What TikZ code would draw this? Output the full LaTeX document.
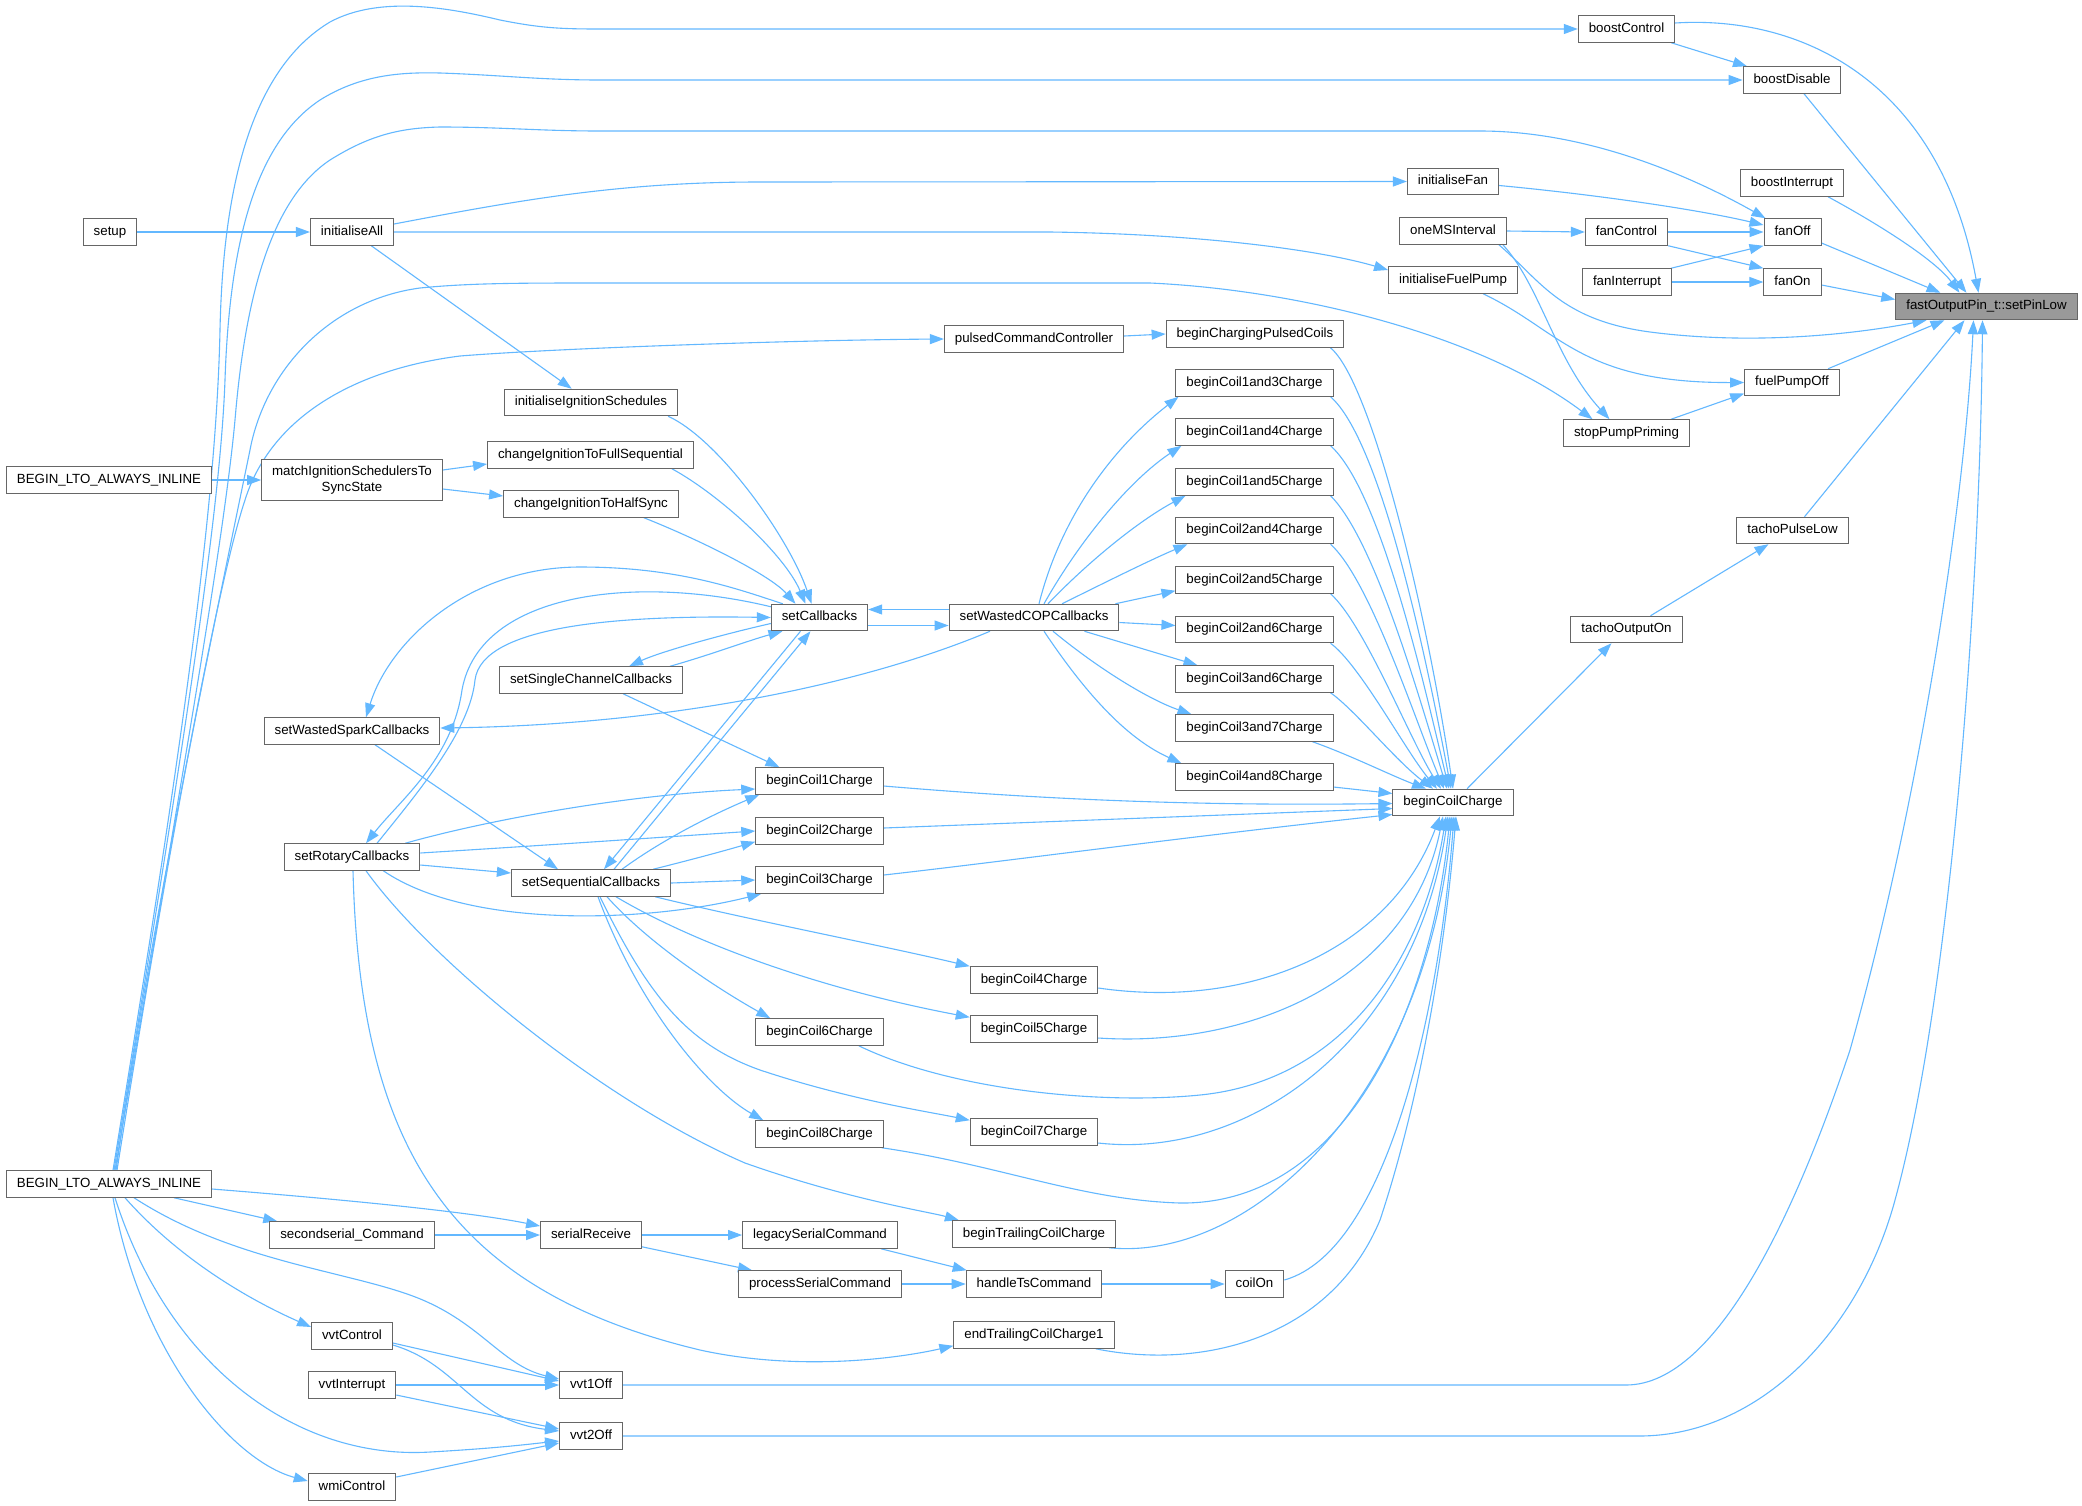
\documentclass[tikz,border=0pt]{standalone}
\usepackage{fontspec}
\newfontfamily\dxfont{Liberation Sans}
\usetikzlibrary{arrows.meta,calc}
\pgfdeclarelayer{bg}
\pgfdeclarelayer{edges}
\pgfsetlayers{bg,edges,main}
\definecolor{edgeblue}{HTML}{63B8FF}
\definecolor{nodeborder}{HTML}{666666}
\definecolor{hilite}{HTML}{999999}
\begin{document}
\begin{tikzpicture}[x=1pt,y=-1pt,
 fnbase/.style={draw=nodeborder, fill=white, line width=1pt, font=\dxfont\fontsize{13.3pt}{15.5pt}\selectfont, inner xsep=10.5pt, text=black},
 fn/.style={fnbase, minimum height=26.5pt, inner ysep=0pt, text height=9.6pt, text depth=2.8pt},
 call/.style={draw=edgeblue, line width=1.1pt, -{Triangle[length=14pt,width=10pt]}}
]
\useasboundingbox (0,0) rectangle (2082,1505);
\begin{pgfonlayer}{bg}
\fill[white] (0,0) rectangle (2082,1505);
\end{pgfonlayer}

% ---------- nodes ----------
\node[fn] (setup) at (110,232) {setup};
\node[fn] (initAll) at (352,232) {initialiseAll};
\node[fn] (beginU) at (109,480) {BEGIN\_LTO\_ALWAYS\_INLINE};
\node[fnbase, align=center, minimum height=41pt] (match) at (352,480) {matchIgnitionSchedulersTo\\SyncState};
\node[fn] (initIgn) at (591,402.5) {initialiseIgnitionSchedules};
\node[fn] (chgFull) at (590.5,455) {changeIgnitionToFullSequential};
\node[fn] (chgHalf) at (591,504) {changeIgnitionToHalfSync};
\node[fn] (setSingle) at (591,680) {setSingleChannelCallbacks};
\node[fn] (setWSpark) at (352,731) {setWastedSparkCallbacks};
\node[fn] (setRotary) at (352,857) {setRotaryCallbacks};
\node[fn] (setSeq) at (591,883) {setSequentialCallbacks};
\node[fn] (setCb) at (819.5,617.5) {setCallbacks};
\node[fn] (setWCOP) at (1034,617.5) {setWastedCOPCallbacks};
\node[fn] (pulsedCC) at (1034,339) {pulsedCommandController};
\node[fn] (bcPulsed) at (1255,334) {beginChargingPulsedCoils};
\node[fn] (bc13) at (1254.5,383) {beginCoil1and3Charge};
\node[fn] (bc14) at (1254.5,432) {beginCoil1and4Charge};
\node[fn] (bc15) at (1254.5,482) {beginCoil1and5Charge};
\node[fn] (bc24) at (1254.5,530.5) {beginCoil2and4Charge};
\node[fn] (bc25) at (1254.5,580) {beginCoil2and5Charge};
\node[fn] (bc26) at (1254.5,629.5) {beginCoil2and6Charge};
\node[fn] (bc36) at (1254.5,679) {beginCoil3and6Charge};
\node[fn] (bc37) at (1254.5,728) {beginCoil3and7Charge};
\node[fn] (bc48) at (1254.5,777) {beginCoil4and8Charge};
\node[fn] (bc1) at (819.5,781) {beginCoil1Charge};
\node[fn] (bc2) at (819.5,831) {beginCoil2Charge};
\node[fn] (bc3) at (819.5,880) {beginCoil3Charge};
\node[fn] (bc4) at (1034,980) {beginCoil4Charge};
\node[fn] (bc5) at (1034,1029) {beginCoil5Charge};
\node[fn] (bc6) at (819.5,1032) {beginCoil6Charge};
\node[fn] (bc7) at (1034,1132) {beginCoil7Charge};
\node[fn] (bc8) at (819.5,1134) {beginCoil8Charge};
\node[fn] (legacy) at (820,1235) {legacySerialCommand};
\node[fn] (trailing) at (1034,1234) {beginTrailingCoilCharge};
\node[fn] (process) at (820,1284) {processSerialCommand};
\node[fn] (handleTs) at (1034,1284) {handleTsCommand};
\node[fn] (coilOn) at (1254.5,1284) {coilOn};
\node[fn] (endTrailing) at (1034,1335) {endTrailingCoilCharge1};
\node[fn] (beginL) at (109,1184) {BEGIN\_LTO\_ALWAYS\_INLINE};
\node[fn] (secondserial) at (352,1235) {secondserial\_Command};
\node[fn] (serialRec) at (591,1235) {serialReceive};
\node[fn] (vvtControl) at (352,1336) {vvtControl};
\node[fn] (vvtInterrupt) at (352,1385) {vvtInterrupt};
\node[fn] (vvt1Off) at (591,1385) {vvt1Off};
\node[fn] (vvt2Off) at (591,1436) {vvt2Off};
\node[fn] (wmiControl) at (352,1487) {wmiControl};
\node[fn] (boostControl) at (1626.5,29) {boostControl};
\node[fn] (boostDisable) at (1792,80) {boostDisable};
\node[fn] (boostInterrupt) at (1792,183) {boostInterrupt};
\node[fn] (initFan) at (1453,181.5) {initialiseFan};
\node[fn] (oneMS) at (1453,231) {oneMSInterval};
\node[fn] (fanControl) at (1626.5,232) {fanControl};
\node[fn] (fanOff) at (1792.5,232) {fanOff};
\node[fn] (fanInterrupt) at (1627,282) {fanInterrupt};
\node[fn] (fanOn) at (1792.5,282) {fanOn};
\node[fn] (initFP) at (1453,280) {initialiseFuelPump};
\node[fn, fill=hilite] (setPinLow) at (1986.5,306.5) {fastOutputPin\_t::setPinLow};
\node[fn] (fuelPumpOff) at (1792,382.5) {fuelPumpOff};
\node[fn] (stopPump) at (1626.5,433) {stopPumpPriming};
\node[fn] (tachoPL) at (1792.5,530.5) {tachoPulseLow};
\node[fn] (tachoOut) at (1626.5,629.5) {tachoOutputOn};
\node[fn] (bCC) at (1453,802.5) {beginCoilCharge};

% ---------- edges ----------
\begin{pgfonlayer}{edges}
% top left
\draw[call] (setup) -- (initAll);
\draw[call] ($(initAll.east)+(0,-8)$) .. controls (520,200) and (620,182) .. (760,182) -- (initFan.west);
\draw[call] (initAll.east) -- (1050,232) .. controls (1200,234) and (1320,250) .. ($(initFP.west)+(0,-10)$);
\draw[call] (initAll) -- (initIgn);
\draw[call] (beginU) -- (match);
\draw[call] ($(match.east)+(0,-10)$) -- ($(chgFull.west)+(0,9)$);
\draw[call] ($(match.east)+(0,9)$) -- ($(chgHalf.west)+(0,-8)$);
% into setCallbacks from above
\draw[call] ($(initIgn.south east)+(-10,0)$) .. controls (720,440) and (790,540) .. ($(setCb.north)+(-8,0)$);
\draw[call] ($(chgFull.south east)+(-22,0)$) .. controls (720,495) and (785,555) .. ($(setCb.north)+(-14,0)$);
\draw[call] ($(chgHalf.south east)+(-35,0)$) .. controls (700,540) and (770,575) .. ($(setCb.north)+(-24,0)$);
% setCallbacks <-> setWastedCOPCallbacks
\draw[call] ($(setWCOP.west)+(0,-8)$) -- ($(setCb.east)+(0,-8)$);
\draw[call] ($(setCb.east)+(0,8)$) -- ($(setWCOP.west)+(0,8)$);
\draw[call] ($(setWCOP.south)+(-44,0)$) .. controls (850,690) and (650,725) .. ($(setWSpark.east)+(0,-3)$);
% setCallbacks <-> setSingleChannelCallbacks
\draw[call] ($(setCb.west)+(0,6)$) .. controls (720,635) and (660,652) .. ($(setSingle.north)+(38,0)$);
\draw[call] ($(setSingle.north)+(79,0)$) .. controls (710,655) and (750,640) .. ($(setCb.south)+(-37,0)$);
% setCallbacks -> setWastedSparkCallbacks (arc)
\draw[call] ($(setCb.north west)+(12,0)$) .. controls (740,590) and (680,567) .. (580,567) .. controls (470,567) and (390,640) .. ($(setWSpark.north)+(14,0)$);
% setCallbacks <-> setRotaryCallbacks
\draw[call] ($(setCb.north west)+(0,3)$) .. controls (640,575) and (480,590) .. (462,690) .. controls (452,760) and (400,800) .. ($(setRotary.north)+(14,0)$);
\draw[call] ($(setRotary.north)+(25,0)$) .. controls (420,790) and (470,730) .. (475,680) .. controls (482,625) and (620,615) .. (setCb.west);
% setCallbacks <-> setSequentialCallbacks
\draw[call] ($(setCb.south)+(-19,0)$) -- ($(setSeq.north)+(13,0)$);
\draw[call] ($(setSeq.north)+(23,0)$) -- ($(setCb.south)+(-9,0)$);
\draw[call] ($(setWSpark.south)+(23,0)$) -- ($(setSeq.north)+(-33,0)$);
\draw[call] ($(setRotary.east)+(0,8)$) -- ($(setSeq.west)+(0,-10)$);
% setRotaryCallbacks -> coils
\draw[call] ($(setRotary.north east)+(-15,0)$) .. controls (480,822) and (620,795) .. ($(bc1.west)+(0,8)$);
\draw[call] ($(setRotary.east)+(0,-4)$) .. controls (550,845) and (680,836) .. (bc2.west);
\draw[call] ($(setRotary.south east)+(-37,0)$) .. controls (470,930) and (650,922) .. ($(bc3.south west)+(6,0)$);
\draw[call] ($(setRotary.south)+(14,0)$) .. controls (430,960) and (600,1100) .. (745,1163) .. controls (850,1200) and (930,1212) .. ($(trailing.north west)+(7,0)$);
\draw[call] ($(setRotary.south)+(1,0)$) .. controls (360,1150) and (450,1290) .. (700,1350) .. controls (800,1372) and (900,1358) .. ($(endTrailing.south west)+(0,-3)$);
% setSequentialCallbacks -> coils
\draw[call] ($(setSeq.north)+(31,0)$) .. controls (655,845) and (700,820) .. ($(bc1.south west)+(4,0)$);
\draw[call] ($(setSeq.north east)+(-18,0)$) .. controls (690,860) and (720,852) .. ($(bc2.south west)+(0,-3)$);
\draw[call] (setSeq.east) -- (bc3.west);
\draw[call] ($(setSeq.south east)+(-16,0)$) .. controls (750,920) and (880,945) .. (bc4.north west);
\draw[call] ($(setSeq.south)+(25,0)$) .. controls (680,935) and (800,985) .. ($(bc5.north west)+(0,2)$);
\draw[call] ($(setSeq.south)+(16,0)$) .. controls (650,945) and (720,990) .. ($(bc6.north west)+(15,0)$);
\draw[call] ($(setSeq.south)+(9,0)$) .. controls (650,1000) and (690,1045) .. (760,1070) .. controls (850,1100) and (930,1112) .. ($(bc7.north west)+(0,2)$);
\draw[call] ($(setSeq.south)+(7,0)$) .. controls (640,1010) and (710,1090) .. ($(bc8.north west)+(8,0)$);
\draw[call] ($(setSingle.south)+(32,0)$) -- ($(bc1.north)+(-40,0)$);
% setWastedCOPCallbacks -> pair coils
\draw[call] ($(setWCOP.north)+(5,0)$) .. controls (1060,520) and (1110,450) .. ($(bc13.south west)+(3,0)$);
\draw[call] ($(setWCOP.north)+(10,0)$) .. controls (1080,540) and (1130,480) .. ($(bc14.south west)+(6,0)$);
\draw[call] ($(setWCOP.north)+(14,0)$) .. controls (1090,560) and (1140,520) .. ($(bc15.south west)+(10,0)$);
\draw[call] ($(setWCOP.north)+(28,0)$) .. controls (1100,585) and (1150,560) .. ($(bc24.south west)+(12,0)$);
\draw[call] ($(setWCOP.north east)+(-4,0)$) -- ($(bc25.south west)+(0,-3)$);
\draw[call] ($(setWCOP.east)+(0,5)$) -- ($(bc26.west)+(0,-4)$);
\draw[call] ($(setWCOP.south east)+(-35,0)$) -- ($(bc36.north west)+(22,0)$);
\draw[call] ($(setWCOP.south)+(19,0)$) .. controls (1100,670) and (1150,700) .. ($(bc37.north west)+(16,0)$);
\draw[call] ($(setWCOP.south)+(10,0)$) .. controls (1090,700) and (1130,740) .. ($(bc48.north west)+(6,0)$);
\draw[call] ($(pulsedCC.east)+(0,-3)$) -- (bcPulsed.west);
% into beginCoilCharge from above
\draw[call] ($(bcPulsed.south east)+(-14,0)$) .. controls (1370,380) and (1425,600) .. ($(bCC.north)+(0,0)$);
\draw[call] ($(bc13.south east)+(-3,0)$) .. controls (1380,440) and (1425,650) .. ($(bCC.north)+(-2,0)$);
\draw[call] ($(bc14.south east)+(-3,0)$) .. controls (1380,490) and (1423,680) .. ($(bCC.north)+(-4,0)$);
\draw[call] ($(bc15.south east)+(-3,0)$) .. controls (1375,540) and (1420,700) .. ($(bCC.north)+(-6,0)$);
\draw[call] ($(bc24.south east)+(-3,0)$) .. controls (1370,580) and (1415,720) .. ($(bCC.north)+(-9,0)$);
\draw[call] ($(bc25.south east)+(-3,0)$) .. controls (1365,625) and (1410,740) .. ($(bCC.north)+(-12,0)$);
\draw[call] ($(bc26.south east)+(-3,0)$) .. controls (1360,665) and (1405,750) .. ($(bCC.north)+(-16,0)$);
\draw[call] ($(bc36.south east)+(-3,0)$) .. controls (1355,710) and (1395,760) .. ($(bCC.north)+(-20,0)$);
\draw[call] ($(bc37.south east)+(-21,0)$) .. controls (1350,755) and (1390,775) .. ($(bCC.north)+(-27,0)$);
\draw[call] ($(bc48.east)+(0,10)$) -- ($(bCC.west)+(0,-9)$);
\draw[call] ($(bc1.east)+(0,5)$) .. controls (1050,800) and (1200,806) .. ($(bCC.west)+(0,1)$);
\draw[call] ($(bc2.east)+(0,-3)$) -- ($(bCC.west)+(0,6)$);
\draw[call] ($(bc3.east)+(0,-5)$) .. controls (1000,862) and (1200,835) .. ($(bCC.west)+(0,12)$);
% into beginCoilCharge from below
\draw[call] ($(bc4.east)+(0,8)$) .. controls (1250,1010) and (1390,950) .. ($(bCC.south)+(-13,0)$);
\draw[call] ($(bc5.east)+(0,9)$) .. controls (1250,1048) and (1410,980) .. ($(bCC.south)+(-10,0)$);
\draw[call] ($(bc6.south east)+(-25,0)$) .. controls (950,1090) and (1100,1105) .. (1200,1095) .. controls (1350,1080) and (1425,950) .. ($(bCC.south)+(-7,0)$);
\draw[call] ($(bc7.east)+(0,11)$) .. controls (1250,1160) and (1415,1040) .. ($(bCC.south)+(-5,0)$);
\draw[call] ($(bc8.south east)+(-2,0)$) .. controls (1000,1165) and (1080,1200) .. (1180,1203) .. controls (1350,1205) and (1432,1000) .. ($(bCC.south)+(-3,0)$);
\draw[call] ($(trailing.south east)+(-7,0)$) .. controls (1250,1262) and (1425,1100) .. ($(bCC.south)+(-1,0)$);
\draw[call] ($(coilOn.east)+(0,-4)$) .. controls (1390,1250) and (1440,1000) .. ($(bCC.south)+(1,0)$);
\draw[call] ($(endTrailing.south east)+(-19,0)$) .. controls (1200,1370) and (1330,1340) .. (1380,1220) .. controls (1420,1100) and (1445,950) .. ($(bCC.south)+(3,0)$);
% serial chain
\draw[call] ($(beginL.south)+(65,0)$) -- ($(secondserial.north west)+(8,0)$);
\draw[call] ($(beginL.east)+(0,5)$) .. controls (350,1200) and (470,1212) .. ($(serialRec.west)+(0,-9)$);
\draw[call] (secondserial) -- (serialRec);
\draw[call] (serialRec) -- (legacy);
\draw[call] ($(serialRec.south east)+(0,-2)$) -- ($(process.north west)+(14,0)$);
\draw[call] ($(legacy.south east)+(-17,0)$) -- ($(handleTs.north west)+(1,0)$);
\draw[call] (process) -- (handleTs);
\draw[call] (handleTs) -- (coilOn);
% vvt / wmi
\draw[call] ($(beginL.south)+(16,0)$) .. controls (180,1260) and (250,1300) .. ($(vvtControl.west)+(0,-9)$);
\draw[call] ($(beginL.south)+(25,0)$) .. controls (230,1260) and (340,1270) .. (410,1295) .. controls (480,1320) and (500,1365) .. ($(vvt1Off.west)+(0,-6)$);
\draw[call] ($(beginL.south)+(6,0)$) .. controls (170,1370) and (300,1460) .. (430,1452) .. controls (500,1448) and (530,1444) .. ($(vvt2Off.west)+(0,5)$);
\draw[call] ($(beginL.south)+(4,0)$) .. controls (140,1350) and (230,1460) .. ($(wmiControl.west)+(0,-6)$);
\draw[call] ($(vvtControl.east)+(0,7)$) -- ($(vvt1Off.west)+(0,-4)$);
\draw[call] ($(vvtControl.east)+(0,9)$) .. controls (460,1365) and (470,1420) .. ($(vvt2Off.west)+(0,-5)$);
\draw[call] (vvtInterrupt) -- (vvt1Off);
\draw[call] ($(vvtInterrupt.east)+(0,10)$) -- ($(vvt2Off.west)+(0,-7)$);
\draw[call] ($(wmiControl.east)+(0,-10)$) -- ($(vvt2Off.west)+(0,7)$);
% bundle from lower BEGIN_LTO_ALWAYS_INLINE
\draw[call] ($(beginL.north)+(4,0)$) .. controls (175,790) and (216,520) .. (220,330) .. controls (223,190) and (250,70) .. (330,22) .. controls (380,-5) and (450,8) .. (500,20) .. controls (540,28) and (560,29) .. (600,29) -- (boostControl.west);
\draw[call] ($(beginL.north)+(5,0)$) .. controls (178,780) and (220,520) .. (225,380) .. controls (230,230) and (260,140) .. (320,100) .. controls (360,75) and (400,72) .. (440,73) .. controls (500,75) and (540,80) .. (600,80) -- (boostDisable.west);
\draw[call] ($(beginL.north)+(6,0)$) .. controls (180,790) and (224,540) .. (235,420) .. controls (245,300) and (270,200) .. (330,160) .. controls (370,135) and (400,128) .. (440,127) .. controls (500,127) and (540,131) .. (600,131) -- (1480,131) .. controls (1580,131) and (1680,170) .. ($(fanOff.north west)+(2,0)$);
\draw[call] ($(beginL.north)+(7,0)$) .. controls (150,930) and (215,620) .. (250,450) .. controls (265,370) and (330,300) .. (420,288) .. controls (470,283) and (520,283) .. (600,283) -- (1150,283) .. controls (1300,290) and (1480,335) .. ($(stopPump.north)+(-34,0)$);
\draw[call] ($(beginL.north)+(8,0)$) .. controls (160,900) and (215,590) .. (245,500) .. controls (270,420) and (350,370) .. (460,356) .. controls (560,348) and (800,340) .. (pulsedCC.west);
% right side
\draw[call] ($(boostControl.east)+(0,-6)$) .. controls (1800,15) and (1940,80) .. ($(setPinLow.north)+(-8,0)$);
\draw[call] ($(boostControl.south east)+(-4,0)$) -- ($(boostDisable.north)+(-45,0)$);
\draw[call] ($(boostDisable.south)+(12,0)$) -- ($(setPinLow.north)+(-20,0)$);
\draw[call] ($(boostInterrupt.south)+(36,0)$) .. controls (1880,225) and (1935,260) .. ($(setPinLow.north)+(-27,0)$);
\draw[call] ($(fanOff.east)+(0,11)$) -- ($(setPinLow.north)+(-46,0)$);
\draw[call] ($(fanOn.east)+(0,3)$) -- ($(setPinLow.west)+(0,-7)$);
\draw[call] ($(oneMS.south east)+(-8,0)$) .. controls (1540,280) and (1560,320) .. (1650,332) .. controls (1750,345) and (1850,335) .. ($(setPinLow.south)+(-60,0)$);
\draw[call] ($(oneMS.south east)+(-4,0)$) .. controls (1540,285) and (1555,360) .. ($(stopPump.north)+(-17,0)$);
\draw[call] ($(fuelPumpOff.north)+(36,0)$) -- ($(setPinLow.south)+(-42,0)$);
\draw[call] ($(initFP.south)+(30,0)$) .. controls (1560,330) and (1580,383) .. (fuelPumpOff.west);
\draw[call] ($(stopPump.north east)+(-19,0)$) -- ($(fuelPumpOff.west)+(0,11)$);
\draw[call] ($(initFan.east)+(0,4)$) .. controls (1600,195) and (1700,210) .. ($(fanOff.west)+(0,-7)$);
\draw[call] (oneMS.east) -- (fanControl.west);
\draw[call] (fanControl) -- (fanOff);
\draw[call] (fanControl.south east) -- (fanOn.north west);
\draw[call] ($(fanInterrupt.north east)+(-1,0)$) -- (fanOff.south west);
\draw[call] (fanInterrupt) -- (fanOn);
\draw[call] ($(bCC.north)+(14,0)$) -- ($(tachoOut.south)+(-15,0)$);
\draw[call] ($(tachoOut.north)+(24,0)$) -- ($(tachoPL.south)+(-24,0)$);
\draw[call] ($(tachoPL.north)+(12,0)$) -- ($(setPinLow.south)+(-22,0)$);
\draw[call] (vvt1Off.east) -- (1626,1385) .. controls (1720,1385) and (1800,1200) .. (1850,1050) .. controls (1920,800) and (1965,500) .. ($(setPinLow.south)+(-13,0)$);
\draw[call] (vvt2Off.east) -- (1639,1436) .. controls (1760,1436) and (1860,1330) .. (1895,1200) .. controls (1950,1000) and (1980,600) .. ($(setPinLow.south)+(-4,0)$);
\end{pgfonlayer}
\end{tikzpicture}
\end{document}
